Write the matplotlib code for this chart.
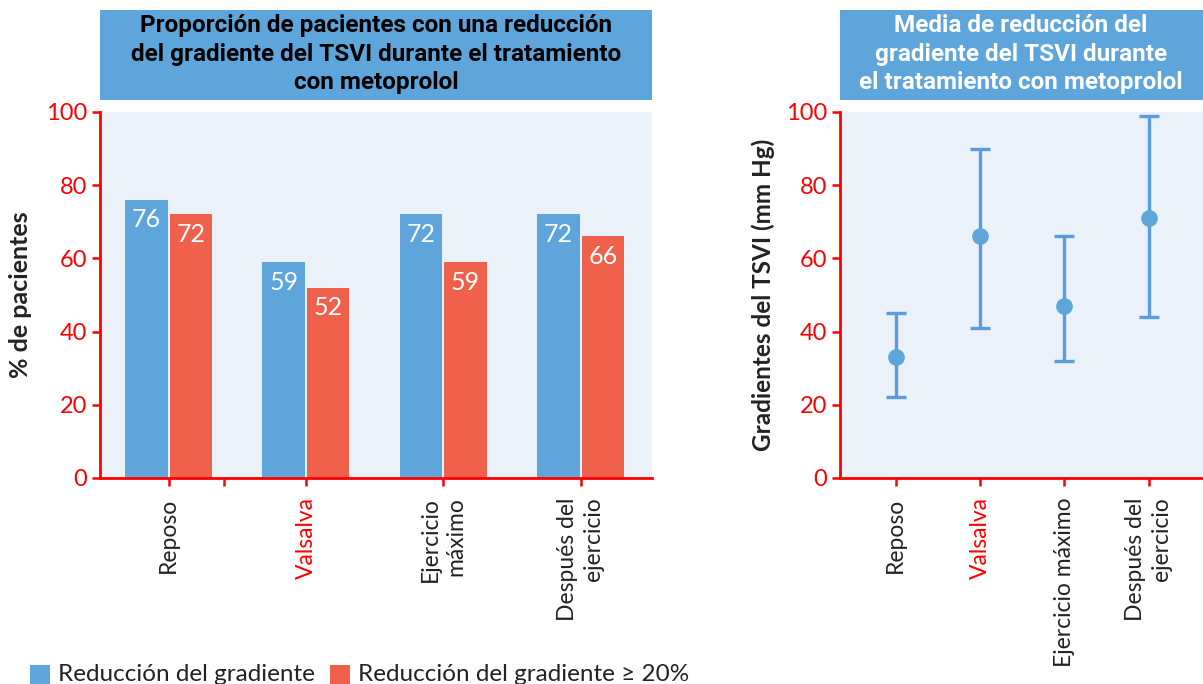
import matplotlib
matplotlib.use('Agg')
import matplotlib.pyplot as plt
from matplotlib.patches import Rectangle

W, H = 1203, 684

# data
left_cats = ['Reposo', 'Valsalva', 'Ejercicio\nmáximo', 'Después del\nejercicio']
right_cats = ['Reposo', 'Valsalva', 'Ejercicio máximo', 'Después del\nejercicio']
highlight_cat = 'Valsalva'

reduccion = [76, 59, 72, 72]
reduccion_20 = [72, 52, 59, 66]

media = [33, 66, 47, 71]
media_low = [22, 41, 32, 44]
media_high = [45, 90, 66, 99]

y_ticks = [0, 20, 40, 60, 80, 100]

left_title = 'Proporción de pacientes con una reducción\ndel gradiente del TSVI durante el tratamiento\ncon metoprolol'
right_title = 'Media de reducción del\ngradiente del TSVI durante\nel tratamiento con metoprolol'
legend_labels = ['Reducción del gradiente', 'Reducción del gradiente ≥ 20%']

# styles
BLUE = '#5DA5DA'
ERR_BLUE = '#5B9BDF'
RED = '#F0614B'
AX_RED = '#FF0000'
BG = '#EAF1F9'
TXT = '#222222'
plt.rcParams['font.family'] = ['Lato', 'DejaVu Sans']
TITLE_FONT = ['Liberation Sans Narrow', 'Roboto', 'DejaVu Sans']


def fx(px):
    return px / W


def fy(py):
    return 1 - py / H


def style_axes(ax):
    ax.set_facecolor(BG)
    for s in ['top', 'right']:
        ax.spines[s].set_visible(False)
    for s in ['left', 'bottom']:
        ax.spines[s].set_color(AX_RED)
        ax.spines[s].set_linewidth(2)
    ax.set_ylim(0, 100)
    ax.set_yticks(y_ticks)
    ax.tick_params(axis='both', colors=AX_RED, width=1.8, length=6)
    ax.tick_params(axis='y', labelsize=17, labelcolor=AX_RED, pad=3)
    ax.tick_params(axis='x', labelsize=16.5, labelcolor=TXT, pad=8)


def set_cat_labels(ax, x, cats):
    ax.set_xticks(x)
    labels = ax.set_xticklabels(cats, rotation=90, va='top', ha='center',
                                multialignment='right', linespacing=1.3)
    for lab in labels:
        if lab.get_text() == highlight_cat:
            lab.set_color(AX_RED)


fig = plt.figure(figsize=(W / 100, H / 100), dpi=100)

# left: bar chart
ax1 = fig.add_axes([fx(100), fy(478), fx(552), 366 / H])
style_axes(ax1)
x = list(range(len(left_cats)))
w = 0.31
xb = [i - 0.162 for i in x]
xr = [i + 0.162 for i in x]
ax1.bar(xb, reduccion, width=w, color=BLUE, zorder=2)
ax1.bar(xr, reduccion_20, width=w, color=RED, zorder=2)
for xi, v in zip(xb, reduccion):
    ax1.text(xi, v - 5.5, str(v), ha='center', va='center', color='white', fontsize=18, zorder=3)
for xi, v in zip(xr, reduccion_20):
    ax1.text(xi, v - 5.5, str(v), ha='center', va='center', color='white', fontsize=18, zorder=3)
ax1.set_xlim(-0.5, 3.52)
set_cat_labels(ax1, x, left_cats)
ax1.set_xticks([0.4], minor=True)
ax1.tick_params(axis='x', which='minor', colors=AX_RED, width=1.8, length=6)
ax1.set_ylabel('% de pacientes', fontsize=18, fontweight='bold', color=TXT, labelpad=10)

# right: mean with range
ax2 = fig.add_axes([fx(840), fy(478), fx(363), 366 / H])
style_axes(ax2)
xm = list(range(len(right_cats)))
yerr = [[m - lo for m, lo in zip(media, media_low)], [hi - m for m, hi in zip(media, media_high)]]
ax2.errorbar(xm, media, yerr=yerr, fmt='none', ecolor=ERR_BLUE, elinewidth=2.4,
             capsize=7, capthick=2.4, zorder=2)
ax2.plot(xm, media, 'o', color=BLUE, markersize=11, zorder=3)
ax2.set_xlim(-0.66, 3.645)
set_cat_labels(ax2, xm, right_cats)
ax2.set_ylabel('Gradientes del TSVI (mm Hg)', fontsize=17.5, fontweight='bold', color=TXT, labelpad=8)

# title boxes
fig.add_artist(Rectangle((fx(100), fy(100)), fx(552), 90 / H, transform=fig.transFigure,
                         facecolor=BLUE, edgecolor='none'))
fig.text(fx(376), fy(54), left_title, ha='center', va='center', fontsize=17.5, fontweight='bold',
         color='black', family=TITLE_FONT, linespacing=1.3)
fig.add_artist(Rectangle((fx(840), fy(100)), fx(363), 90 / H, transform=fig.transFigure,
                         facecolor=BLUE, edgecolor='none'))
fig.text(fx(1021), fy(54), right_title, ha='center', va='center', fontsize=17.5, fontweight='bold',
         color='white', family=TITLE_FONT, linespacing=1.3)

# legend
for x0, col, lab, tx in [(30, BLUE, legend_labels[0], 58), (330, RED, legend_labels[1], 358)]:
    fig.add_artist(Rectangle((fx(x0), fy(686)), fx(20), 21 / H, transform=fig.transFigure,
                             facecolor=col, edgecolor='none'))
    fig.text(fx(tx), fy(681), lab, ha='left', va='baseline', fontsize=17.5, color=TXT)

fig.savefig('out.png', dpi=100)
